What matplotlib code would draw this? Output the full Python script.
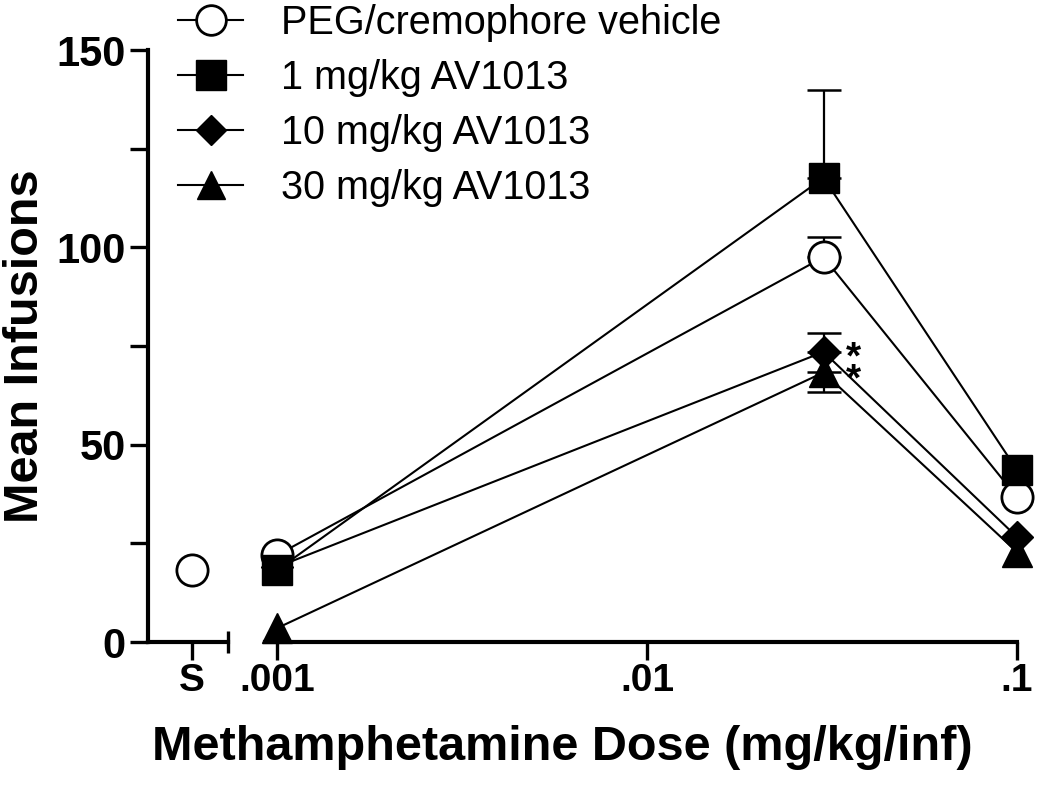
import matplotlib
matplotlib.use("Agg")
import matplotlib.pyplot as plt
from matplotlib.lines import Line2D
from matplotlib.ticker import FixedLocator, NullLocator, NullFormatter

plt.rcParams['font.family'] = ['Liberation Sans', 'DejaVu Sans']

# ---- data ----
doses = [0.001, 0.03, 0.1]
dose_ticks = [0.001, 0.01, 0.1]
dose_tick_labels = ['.001', '.01', '.1']
saline_label = 'S'
saline_vehicle = 18.2

series_labels = ['PEG/cremophore vehicle', '1 mg/kg AV1013',
                 '10 mg/kg AV1013', '30 mg/kg AV1013']
vehicle = [22.0, 97.5, 36.7]
av1 = [18.2, 117.6, 43.6]
av10 = [19.0, 73.5, 26.6]
av30 = [3.5, 68.3, 22.8]

# one-sided SEM (upper for first three, lower for 30 mg/kg)
vehicle_err = [0.0, 5.0, 0.0]
av1_err = [0.0, 22.3, 0.0]
av10_err = [0.0, 4.8, 0.0]
av30_err = [0.0, 5.0, 0.0]

sig_dose = 0.0345
sig_level = 69.0

W, H = 1050, 789
fig = plt.figure(figsize=(W / 100, H / 100), dpi=100)

y0_px, y150_px = 642, 50
bottom = (H - y0_px) / H
height = (y0_px - y150_px) / H

axL = fig.add_axes([148 / W, bottom, 80 / W, height])
axR = fig.add_axes([265 / W, bottom, (1017 - 265) / W, height], sharey=axL)

spine_lw = 3.0
tick_kw = dict(width=2.4, length=13, direction='out')

for ax in (axL, axR):
    ax.set_facecolor('none')
    for s in ('top', 'right'):
        ax.spines[s].set_visible(False)
    ax.spines['bottom'].set_linewidth(spine_lw)
    ax.spines['left'].set_linewidth(spine_lw)

axR.spines['left'].set_visible(False)
axR.tick_params(axis='y', left=False, labelleft=False, which='both')

axL.set_ylim(0, 150)
axL.yaxis.set_major_locator(FixedLocator([0, 50, 100, 150]))
axL.yaxis.set_minor_locator(FixedLocator([25, 75, 125]))
axL.tick_params(axis='y', which='both', **tick_kw)
axL.tick_params(axis='y', which='major', labelsize=30, pad=3)
for lab in axL.get_yticklabels():
    lab.set_fontweight('bold')

# left (saline) segment
axL.set_xlim(0, 1)
axL.set_xticks([0.55])
axL.set_xticklabels([saline_label])
axL.xaxis.set_minor_locator(FixedLocator([1.0]))
axL.tick_params(axis='x', which='major', width=2.4, length=13, direction='out',
                labelsize=28, pad=2)
axL.tick_params(axis='x', which='minor', width=2.4, length=16, direction='inout')
for lab in axL.get_xticklabels():
    lab.set_fontweight('bold')

# right (dose) segment
axR.set_xscale('log')
axR.set_xlim(9.28e-4, 0.1)
axR.xaxis.set_major_locator(FixedLocator(dose_ticks))
axR.xaxis.set_minor_locator(NullLocator())
axR.xaxis.set_minor_formatter(NullFormatter())
axR.set_xticklabels(dose_tick_labels)
axR.tick_params(axis='x', which='major', width=2.4, length=13, direction='out',
                labelsize=28, pad=2)
for lab in axR.get_xticklabels():
    lab.set_fontweight('bold')

line_lw = 1.5
styles = [
    dict(marker='o', ms=22.5, mfc='white', mec='black', mew=2.0, zorder=5),
    dict(marker='s', ms=22, mfc='black', mec='black', mew=1.0, zorder=6),
    dict(marker='D', ms=16, mfc='black', mec='black', mew=1.0, zorder=4),
    dict(marker='^', ms=21, mfc='black', mec='black', mew=1.0, zorder=3),
]
data = [vehicle, av1, av10, av30]
errs = [vehicle_err, av1_err, av10_err, av30_err]
err_dirs = ['up', 'up', 'up', 'down']

handles = []
for d, e, dirn, st in zip(data, errs, err_dirs, styles):
    idx = [i for i, v in enumerate(e) if v > 0]
    ex = [doses[i] for i in idx]
    ey = [d[i] for i in idx]
    ee = [e[i] for i in idx]
    zeros = [0] * len(idx)
    yerr = [zeros, ee] if dirn == 'up' else [ee, zeros]
    axR.errorbar(ex, ey, yerr=yerr, fmt='none', ecolor='black',
                 elinewidth=1.6, capsize=12, capthick=1.8,
                 zorder=st['zorder'] - 0.5, clip_on=False)
    axR.plot(doses, d, color='black', lw=line_lw, clip_on=False, **st)
    handles.append(Line2D([], [], color='black', lw=line_lw,
                          **{k: v for k, v in st.items() if k != 'zorder'}))

axL.plot([0.55], [saline_vehicle], linestyle='none', clip_on=False, **styles[0])

# significance asterisks (10 and 30 mg/kg at the peak dose)
axR.text(sig_dose, sig_level, '*\n*', fontsize=28, fontweight='bold',
         ha='left', va='center', linespacing=0.5)

axL.set_ylabel('Mean Infusions', fontsize=35, fontweight='bold', labelpad=6)
fig.text((150 + 975) / 2 / W, 1 - 748 / H, 'Methamphetamine Dose (mg/kg/inf)',
         fontsize=35, fontweight='bold', ha='center', va='center')

leg = axR.legend(handles, series_labels, loc='upper left',
                 bbox_to_anchor=(178 / W, 1 - 4 / H), bbox_transform=fig.transFigure,
                 frameon=False, fontsize=28.5, handlelength=1.65, handletextpad=0.95,
                 labelspacing=0.43, borderpad=0, borderaxespad=0, markerscale=0.95)

fig.savefig('out.png', dpi=100)
